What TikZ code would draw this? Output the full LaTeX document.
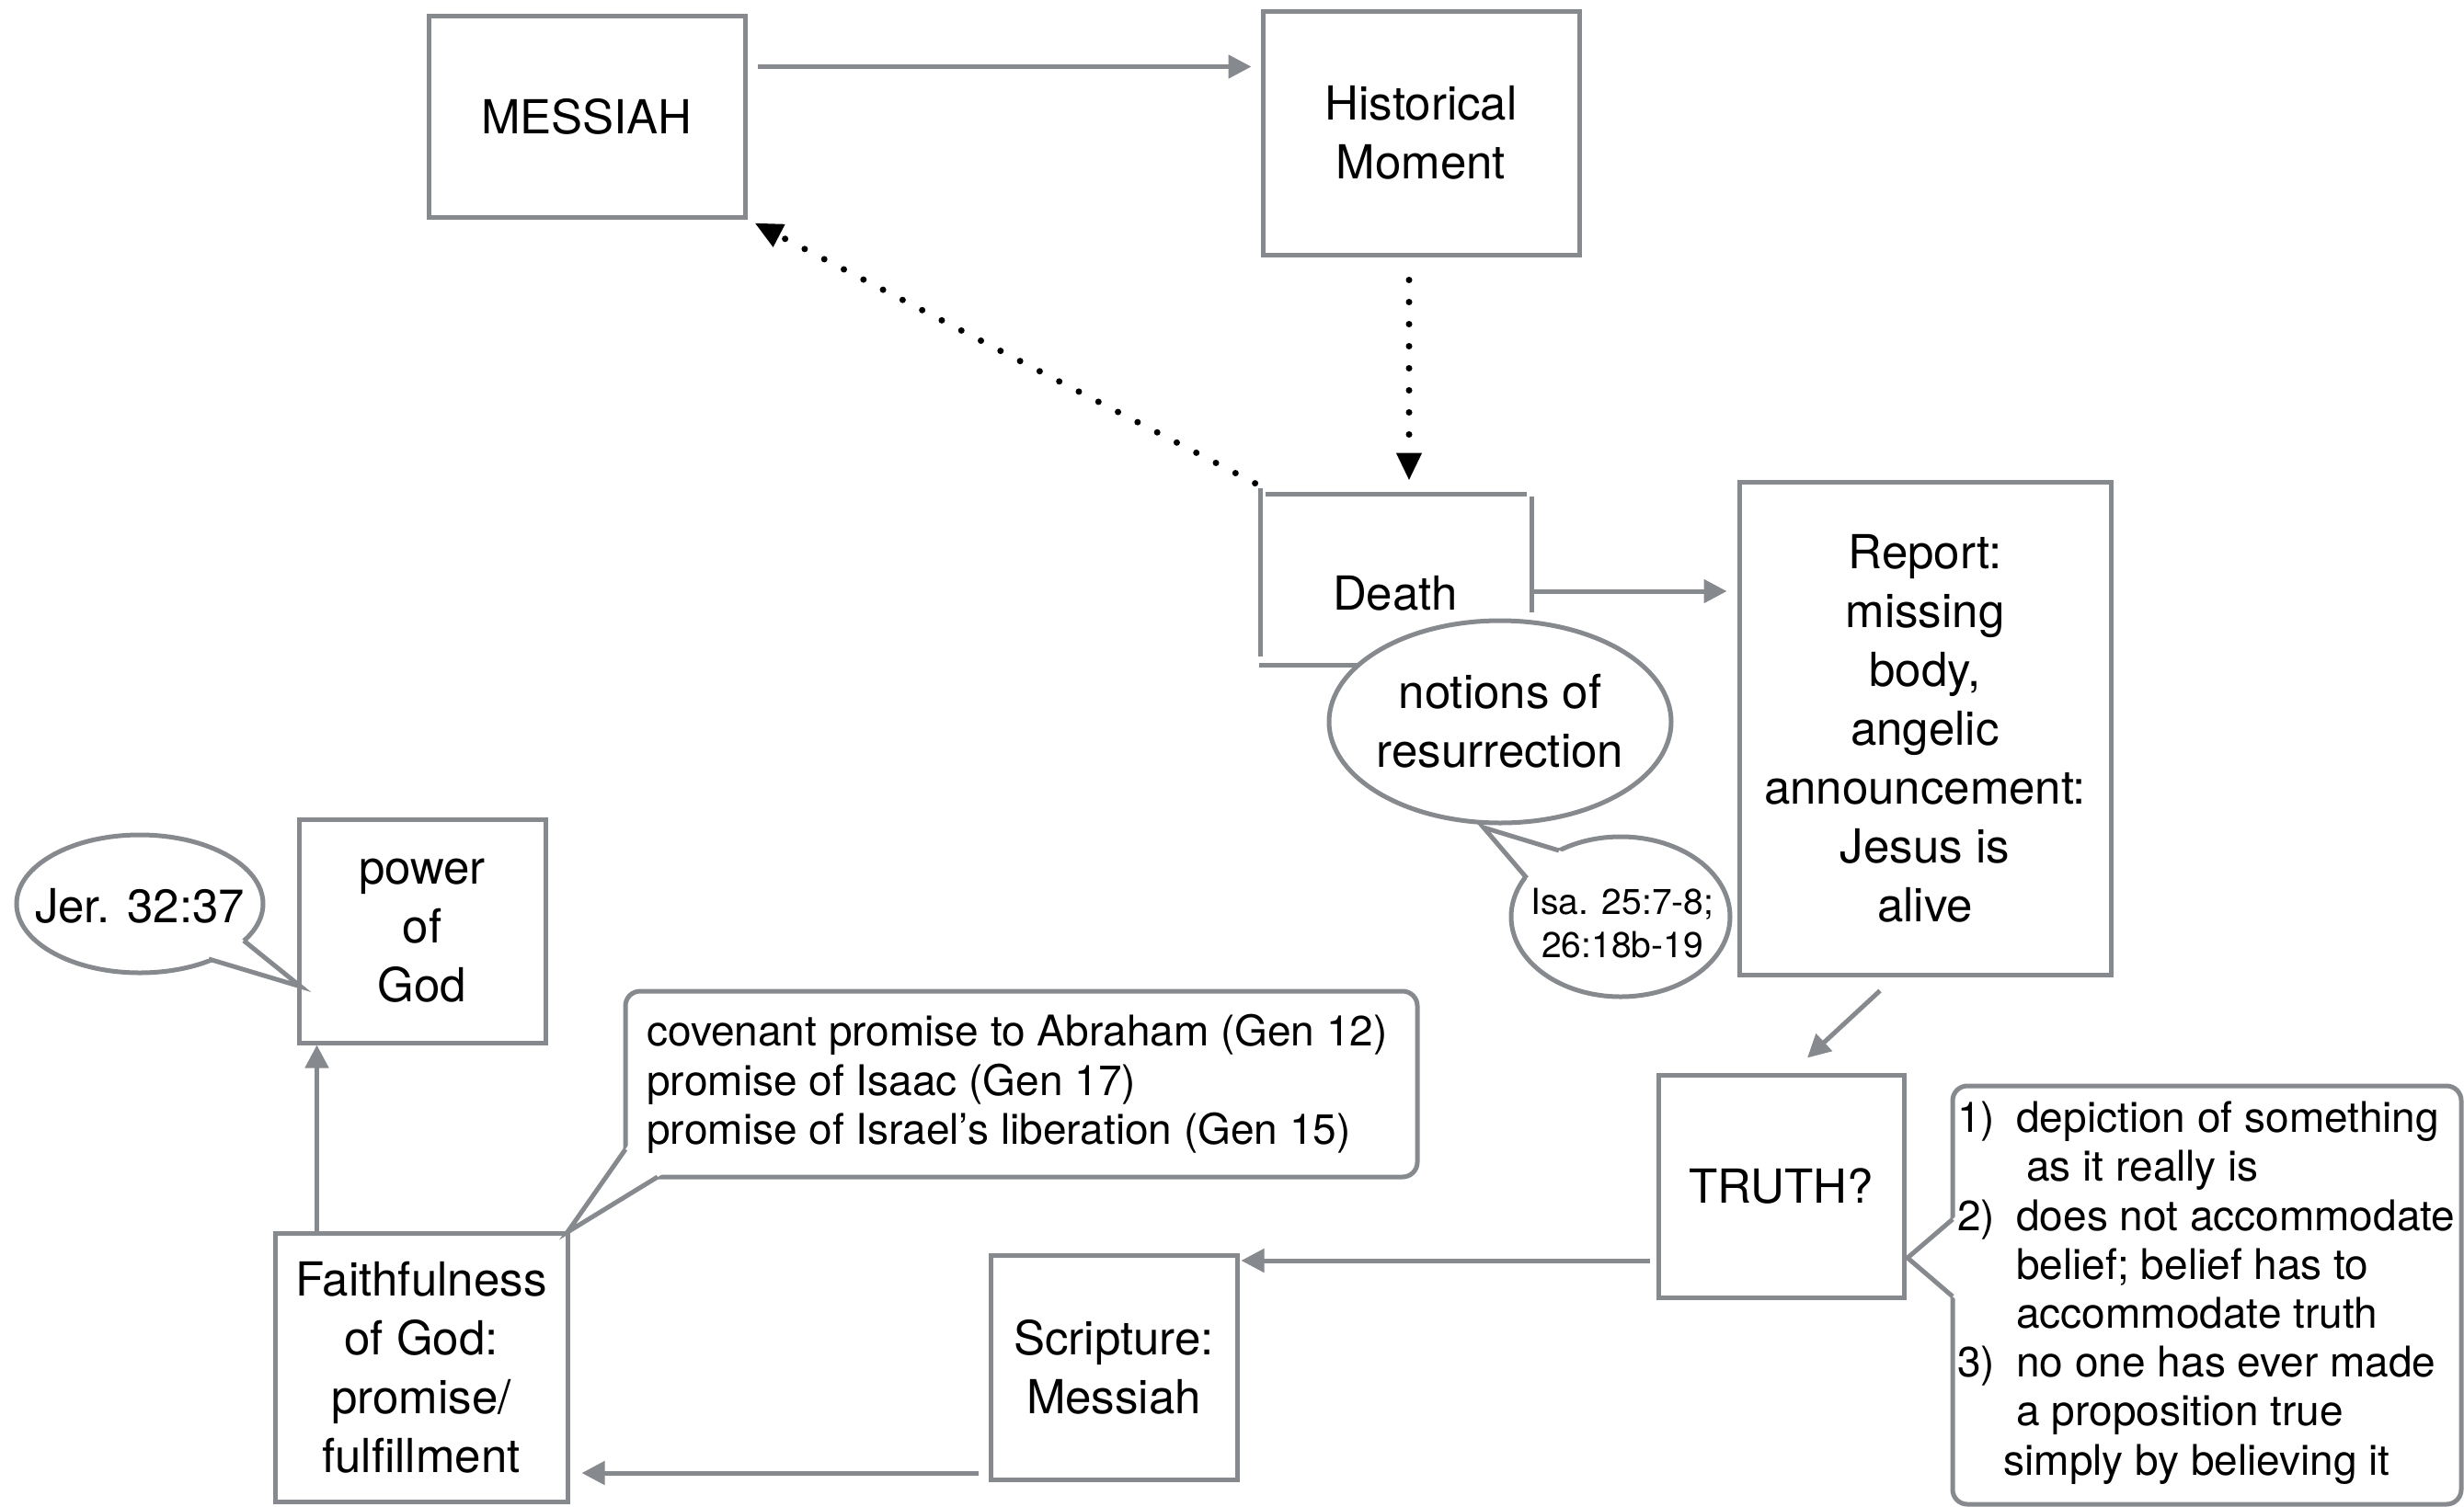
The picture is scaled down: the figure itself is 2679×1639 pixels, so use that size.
\documentclass[tikz,border=0pt]{standalone}
\usepackage{fontspec}
\setmainfont{TeX Gyre Heros}
\usetikzlibrary{arrows.meta,shapes.geometric,calc}
\definecolor{lg}{RGB}{134,137,141}
\newcommand\fntbig{\fontsize{25.5}{32}\selectfont}
\newcommand\fntmid{\fontsize{23}{26.6}\selectfont}
\newcommand\fntsml{\fontsize{19.5}{23.5}\selectfont}
\begin{document}
\begin{tikzpicture}[x=0.5pt,y=-0.5pt,
  box/.style={draw=lg,line width=2.5pt,fill=white,inner sep=0pt,align=center,font=\fntbig},
  bubble/.style={ellipse,draw=lg,line width=2.5pt,fill=white,inner sep=0pt},
  txt/.style={inner sep=0pt,align=center},
  arr/.style={draw=lg,line width=2.5pt,-{Triangle[length=12.5pt,width=12.5pt]}},
  dotarr/.style={black,line width=3.5pt,line cap=round,dash pattern=on 0pt off 12pt,-{Triangle[length=15pt,width=13pt]}},
  seg/.style={draw=lg,line width=2.5pt},
  callout/.style={draw=lg,line width=2.5pt,fill=white,rounded corners=8pt},
  tailline/.style={draw=lg,line width=2.5pt,line join=miter}]
\useasboundingbox (0,0) rectangle (2679,1639);
\fill[white] (0,0) rectangle (2679,1639);

% main boxes
\node[box,minimum width=172pt,minimum height=109.5pt] (MESSIAH) at (638,126.5) {MESSIAH};
\node[box,minimum width=172pt,minimum height=132.5pt] (Hist) at (1545,144.5) {Historical\\Moment};
\node[inner sep=0pt,minimum width=147pt,minimum height=92.5pt] (Death) at (1518,630.5) {};
\node[font=\fntbig,inner sep=0pt] (deathtxt) at ($(Death.center)+(-1,14.5)$) {Death};
\node[box,minimum width=202pt,minimum height=268pt] (Report) at (2093,792)
  {Report:\\missing\\body,\\angelic\\announcement:\\Jesus is\\alive};
\node[box,minimum width=133.5pt,minimum height=121pt] (TRUTH) at (1936.5,1290) {TRUTH?};
\node[box,minimum width=134pt,minimum height=122pt] (Scripture) at (1211,1487) {Scripture:\\Messiah};
\node[box,minimum width=159pt,minimum height=146pt] (Faith) at (458,1487) {Faithfulness\\of God:\\promise/\\fulfillment};
\node[box,minimum width=134pt,minimum height=121.5pt] (Power) at (459,1012.5) {power\\of\\God};

% Death box drawn as separate strokes
\draw[seg] ($(Death.north west)+(0,-7)$) -- ($(Death.south west)+(0,-9)$);
\draw[seg] ($(Death.north west)+(5,0)$) -- ($(Death.north east)+(-5,0)$);
\draw[seg] ($(Death.north east)+(0,2)$) -- ($(Death.north east)+(0,128)$);
\draw[seg] ($(Death.south west)+(-2,0)$) -- ($(Death.south)+(113,0)$);

% bubbles
\node[bubble,minimum width=186pt,minimum height=110pt] (notions) at (1631,785) {};
\node[txt,font=\fntbig] (notionstxt) at (1631,784) {notions of\\resurrection};
\node[bubble,minimum width=119pt,minimum height=87pt] (isa) at (1762,997) {};
\coordinate (isaT) at (1613,900);
\coordinate (isaA) at (1695,925);
\coordinate (isaB) at (1660,955);
\fill[white] (isaT) -- ($(isaT)!1.13!(isaA)$) -- ($(isaT)!1.13!(isaB)$) -- cycle;
\draw[tailline] (isaA) -- (isaT) -- (isaB);
\node[txt,font=\fntsml] (isatxt) at (1764,1004) {Isa. 25:7-8;\\26:18b-19};

\node[bubble,minimum width=134pt,minimum height=75pt] (jer) at (152,983) {};
\coordinate (jerT) at (327,1073);
\coordinate (jerA) at (227,1043);
\coordinate (jerB) at (265,1023);
\fill[white] (jerT) -- ($(jerT)!1.1!(jerA)$) -- ($(jerT)!1.1!(jerB)$) -- cycle;
\draw[tailline] (jerA) -- (jerT) -- (jerB);
\node[txt,font=\fntbig] (jertxt) at (152,985) {Jer. 32:37};

% covenant callout
\draw[callout] (680,1078) rectangle (1541,1280);
\coordinate (covT) at (617,1340);
\coordinate (covA) at (680,1250);
\coordinate (covB) at (715,1280);
\fill[white] (covT) -- ($(covT)!1.15!(covA)$) -- ($(covT)!1.15!(covB)$) -- cycle;
\draw[tailline] (covA) -- (covT) -- (covB);
\node[font=\fntmid,align=left,anchor=west,inner sep=0pt] (covtext) at (703,1179)
  {covenant promise to Abraham (Gen 12)\\promise of Isaac (Gen 17)\\promise of Israel’s liberation (Gen 15)};

% truth callout
\draw[callout] (2123,1181) rectangle (2676,1636);
\coordinate (trT) at (2074,1368);
\coordinate (trA) at (2123,1326);
\coordinate (trB) at (2123,1410);
\fill[white] (trT) -- ($(trT)!1.15!(trA)$) -- ($(trT)!1.15!(trB)$) -- cycle;
\draw[tailline] (trA) -- (trT) -- (trB);
\node[font=\fntmid,align=left,anchor=west,inner sep=0pt] (trtext) at (2128,1406)
  {\makebox[32pt][l]{1)}depiction of something\\
   \hspace*{37.5pt}as it really is\\
   \makebox[32pt][l]{2)}does not accommodate\\
   \hspace*{32pt}belief; belief has to\\
   \hspace*{32pt}accommodate truth\\
   \makebox[32pt][l]{3)}no one has ever made\\
   \hspace*{32pt}a proposition true\\
   \hspace*{25pt}simply by believing it};

% connectors
\draw[arr] ($(MESSIAH.north east)+(11,58)$) -- ($(Hist.north west)+(-10,63)$);
\draw[dotarr] ($(Hist.south)+(-13,25)$) -- ($(Death.north)+(14,-15)$);
\draw[dotarr] ($(Death.north west)+(-6,-12)$) -- ($(MESSIAH.south east)+(8,4)$);
\coordinate (d1) at ($(Death.east)+(2,12.5)$);
\draw[arr,shorten >=5.5pt] (d1) -- (d1 -| Report.west);
\draw[arr] ($(Report.south)+(-49,15)$) -- ($(TRUTH.north)+(28.5,-16)$);
\coordinate (t1) at ($(TRUTH.west)+(-7,81)$);
\draw[arr,shorten >=1pt] (t1) -- (t1 -| Scripture.east);
\coordinate (s1) at ($(Scripture.west)+(-11,115)$);
\draw[arr,shorten >=6.5pt] (s1) -- (s1 -| Faith.east);
\coordinate (f1) at ($(Faith.north west)+(48,0)$);
\draw[arr] (f1) -- (f1 |- Power.south);
\end{tikzpicture}
\end{document}
